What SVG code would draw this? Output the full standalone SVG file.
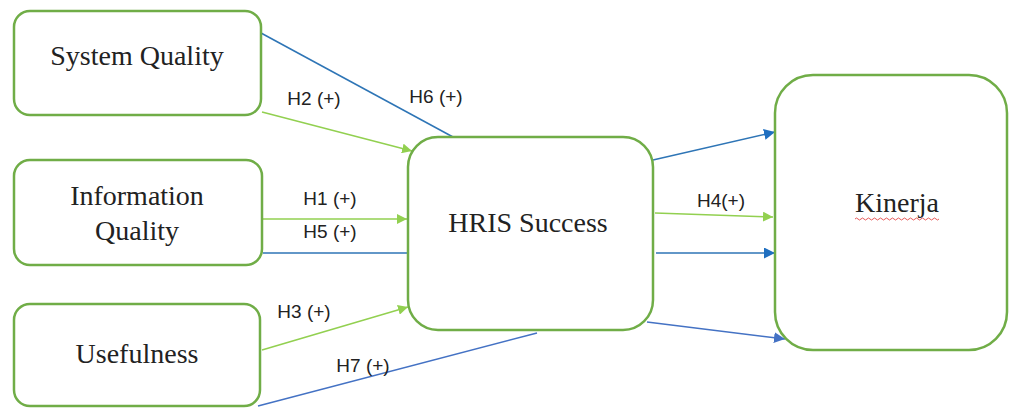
<svg xmlns="http://www.w3.org/2000/svg" width="1009" height="409" viewBox="0 0 1009 409">
<style>
.box{fill:#ffffff;stroke:#70AD47;stroke-width:2.5}
.node{font-family:"Liberation Serif",serif;font-size:28px;fill:#222;text-anchor:middle}
.lbl{font-family:"Liberation Sans",sans-serif;font-size:19px;fill:#222;text-anchor:middle}
.g{stroke:#92D050;stroke-width:1.5;fill:none}
.b{stroke:#2E75B6;stroke-width:1.5;fill:none}
.p{stroke:#4472C4;stroke-width:1.5;fill:none}
</style>
<defs>
<marker id="ag" viewBox="0 0 10 10" refX="10" refY="5" markerWidth="10" markerHeight="10" markerUnits="userSpaceOnUse" orient="auto"><path d="M0,0 L10,5 L0,10 z" fill="#92D050"/></marker>
<marker id="ab" viewBox="0 0 10 10" refX="10" refY="5" markerWidth="11" markerHeight="11" markerUnits="userSpaceOnUse" orient="auto"><path d="M0,0 L10,5 L0,10 z" fill="#1F6FC0"/></marker>
<marker id="ap" viewBox="0 0 10 10" refX="10" refY="5" markerWidth="11" markerHeight="11" markerUnits="userSpaceOnUse" orient="auto"><path d="M0,0 L10,5 L0,10 z" fill="#4472C4"/></marker>
</defs>
<rect width="1009" height="409" fill="#ffffff"/>
<g id="connectors">
<line class="b" x1="261" y1="33" x2="453" y2="137"/>
<line class="g" x1="262" y1="112" x2="412" y2="151" marker-end="url(#ag)"/>
<line class="g" x1="263" y1="219" x2="407" y2="219" marker-end="url(#ag)"/>
<line class="b" x1="263" y1="253" x2="408" y2="253"/>
<line class="g" x1="262" y1="350" x2="408" y2="307" marker-end="url(#ag)"/>
<line class="p" x1="258" y1="406" x2="537" y2="333"/>
<line class="b" x1="653" y1="160" x2="775" y2="132" marker-end="url(#ab)"/>
<line class="g" x1="655" y1="213" x2="773" y2="217" marker-end="url(#ag)"/>
<line class="b" x1="656" y1="253" x2="775" y2="253" marker-end="url(#ab)"/>
<line class="p" x1="647" y1="322" x2="785" y2="339" marker-end="url(#ap)"/>
</g>
<g id="labels">
<text class="lbl" x="314" y="105">H2 (+)</text>
<text class="lbl" x="436" y="103">H6 (+)</text>
<text class="lbl" x="330" y="205">H1 (+)</text>
<text class="lbl" x="330" y="238">H5 (+)</text>
<text class="lbl" x="304" y="318">H3 (+)</text>
<text class="lbl" x="363" y="372">H7 (+)</text>
<text class="lbl" x="721" y="207">H4(+)</text>
</g>
<g id="system-quality">
<rect class="box" x="14" y="11" width="247" height="104" rx="16"/>
<text class="node" x="137" y="65">System Quality</text>
</g>
<g id="information-quality">
<rect class="box" x="14" y="160" width="248" height="105" rx="16"/>
<text class="node" x="137" y="205">Information</text>
<text class="node" x="137" y="240">Quality</text>
</g>
<g id="usefulness">
<rect class="box" x="14" y="304" width="246" height="102" rx="16"/>
<text class="node" x="137" y="363">Usefulness</text>
</g>
<g id="hris-success">
<rect class="box" x="408" y="137" width="245" height="193" rx="30"/>
<text class="node" x="528" y="232">HRIS Success</text>
</g>
<g id="kinerja">
<rect class="box" x="775" y="75" width="232" height="275" rx="38"/>
<text class="node" x="897" y="212">Kinerja</text>
<path d="M855,219 q1.5,-2 3,0 t3,0 t3,0 t3,0 t3,0 t3,0 t3,0 t3,0 t3,0 t3,0 t3,0 t3,0 t3,0 t3,0 t3,0 t3,0 t3,0 t3,0 t3,0 t3,0 t3,0 t3,0 t3,0 t3,0 t3,0 t3,0 t3,0 t3,0" fill="none" stroke="#E03030" stroke-width="0.8"/>
</g>
</svg>
